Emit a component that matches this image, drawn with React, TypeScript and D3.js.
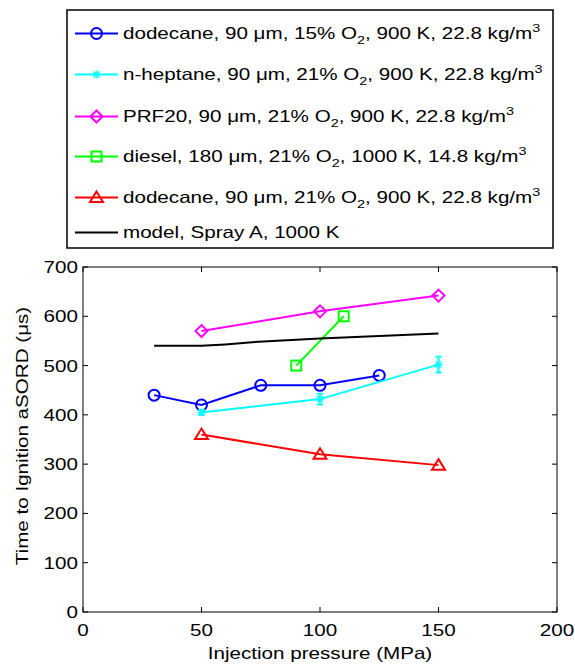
import React from "react";
import * as d3 from "d3";

// Ignition delay vs injection pressure, several fuels and conditions
const dodecane15X = [30, 50, 75, 100, 125];
const dodecane15Y = [440, 420, 460, 460, 480];

const heptaneX = [50, 100, 150];
const heptaneY = [405, 432, 502];
const heptaneErr = [5, 11, 16];

const prf20X = [50, 100, 150];
const prf20Y = [570, 610, 642];

const dieselX = [90, 110];
const dieselY = [500, 600];

const dodecane21X = [50, 100, 150];
const dodecane21Y = [360, 320, 298];

const modelX = [30, 50, 60, 70, 80, 100, 150];
const modelY = [540, 540, 543, 547, 550, 555, 565];

const xTicks = [0, 50, 100, 150, 200];
const yTicks = [0, 100, 200, 300, 400, 500, 600, 700];

const FONT = "'Liberation Sans', Arial, Helvetica, sans-serif";
const FS = 16.5;
const SX = 1.25; // wide glyphs

type Marker = "circle" | "plus" | "diamond" | "square" | "triangle" | "none";

function MarkerShape({ kind, x, y, color }: { kind: Marker; x: number; y: number; color: string }) {
  const sw = 2;
  if (kind === "circle") return <circle cx={x} cy={y} r={5.5} fill="none" stroke={color} strokeWidth={sw} />;
  if (kind === "diamond")
    return (
      <path
        d={`M${x},${y - 6}L${x + 6},${y}L${x},${y + 6}L${x - 6},${y}Z`}
        fill="none"
        stroke={color}
        strokeWidth={sw}
      />
    );
  if (kind === "square") return <rect x={x - 5} y={y - 5} width={10} height={10} fill="none" stroke={color} strokeWidth={sw} />;
  if (kind === "triangle")
    return (
      <path d={`M${x},${y - 6}L${x + 6.5},${y + 4.5}L${x - 6.5},${y + 4.5}Z`} fill="none" stroke={color} strokeWidth={sw} />
    );
  if (kind === "plus")
    return (
      <g stroke={color} strokeWidth={1.5}>
        <line x1={x - 4} x2={x + 4} y1={y} y2={y} />
        <line x1={x} x2={x} y1={y - 4} y2={y + 4} />
        <line x1={x - 3} x2={x + 3} y1={y - 3} y2={y + 3} />
        <line x1={x - 3} x2={x + 3} y1={y + 3} y2={y - 3} />
      </g>
    );
  return null;
}

// Text with horizontally widened glyphs
function WText({
  x,
  y,
  anchor = "start",
  rotate = 0,
  children,
}: {
  x: number;
  y: number;
  anchor?: "start" | "middle" | "end";
  rotate?: number;
  children: React.ReactNode;
}) {
  return (
    <g transform={`translate(${x},${y}) rotate(${rotate}) scale(${SX},1)`}>
      <text x={0} y={0} textAnchor={anchor} fontSize={FS}>
        {children}
      </text>
    </g>
  );
}

function LegendLabel({ pre, mid }: { pre: string; mid: string }) {
  return (
    <>
      <tspan>{pre}</tspan>
      <tspan fontSize={11.5} dy={5}>
        2
      </tspan>
      <tspan dy={-5}>{mid}</tspan>
      <tspan fontSize={11.5} dy={-7}>
        3
      </tspan>
    </>
  );
}

interface Series {
  xs: number[];
  ys: number[];
  color: string;
  marker: Marker;
  label: React.ReactNode;
  err?: number[];
}

const series: Series[] = [
  {
    xs: dodecane15X,
    ys: dodecane15Y,
    color: "#0000ff",
    marker: "circle",
    label: <LegendLabel pre="dodecane, 90 μm, 15% O" mid=", 900 K, 22.8 kg/m" />,
  },
  {
    xs: heptaneX,
    ys: heptaneY,
    err: heptaneErr,
    color: "#00ffff",
    marker: "plus",
    label: <LegendLabel pre="n-heptane, 90 μm, 21% O" mid=", 900 K, 22.8 kg/m" />,
  },
  {
    xs: prf20X,
    ys: prf20Y,
    color: "#ff00ff",
    marker: "diamond",
    label: <LegendLabel pre="PRF20, 90 μm, 21% O" mid=", 900 K, 22.8 kg/m" />,
  },
  {
    xs: dieselX,
    ys: dieselY,
    color: "#00ff00",
    marker: "square",
    label: <LegendLabel pre="diesel, 180 μm, 21% O" mid=", 1000 K, 14.8 kg/m" />,
  },
  {
    xs: dodecane21X,
    ys: dodecane21Y,
    color: "#ff0000",
    marker: "triangle",
    label: <LegendLabel pre="dodecane, 90 μm, 21% O" mid=", 900 K, 22.8 kg/m" />,
  },
  {
    xs: modelX,
    ys: modelY,
    color: "#000000",
    marker: "none",
    label: "model, Spray A, 1000 K",
  },
];

export default function App() {
  const W = 575;
  const H = 666;
  const plot = { left: 83, right: 557, top: 267, bottom: 612 };
  const x = d3.scaleLinear().domain([0, 200]).range([plot.left, plot.right]);
  const y = d3.scaleLinear().domain([0, 700]).range([plot.bottom, plot.top]);
  const line = d3
    .line<[number, number]>()
    .x((d) => x(d[0]))
    .y((d) => y(d[1]));

  const legendBaselines = [39, 80, 122, 162, 203, 238];
  const tickLen = 5;

  return (
    <svg
      width={W}
      height={H}
      style={{ position: "absolute", left: 0, top: 0, background: "#fff" }}
      fontFamily={FONT}
    >
      <rect x={0} y={0} width={W} height={H} fill="#fff" />
      {/* Axes box */}
      <rect
        x={plot.left}
        y={plot.top}
        width={plot.right - plot.left}
        height={plot.bottom - plot.top}
        fill="none"
        stroke="#000"
        strokeWidth={1}
      />
      {xTicks.map((t) => (
        <g key={"xt" + t}>
          <line x1={x(t)} x2={x(t)} y1={plot.bottom} y2={plot.bottom - tickLen} stroke="#000" />
          <line x1={x(t)} x2={x(t)} y1={plot.top} y2={plot.top + tickLen} stroke="#000" />
          <WText x={x(t)} y={636} anchor="middle">
            {t}
          </WText>
        </g>
      ))}
      {yTicks.map((t) => (
        <g key={"yt" + t}>
          <line x1={plot.left} x2={plot.left + tickLen} y1={y(t)} y2={y(t)} stroke="#000" />
          <line x1={plot.right} x2={plot.right - tickLen} y1={y(t)} y2={y(t)} stroke="#000" />
          <WText x={plot.left - 5} y={y(t) + 6} anchor="end">
            {t}
          </WText>
        </g>
      ))}
      <WText x={(plot.left + plot.right) / 2} y={659} anchor="middle">
        Injection pressure (MPa)
      </WText>
      <WText x={28} y={436} anchor="middle" rotate={-90}>
        Time to Ignition aSORD (μs)
      </WText>

      {/* Series */}
      {series.map((s, i) => {
        const pts = s.xs.map((v, j) => [v, s.ys[j]] as [number, number]);
        return (
          <g key={"s" + i}>
            <path d={line(pts) ?? ""} fill="none" stroke={s.color} strokeWidth={2} />
            {s.err &&
              pts.map((p, j) => (
                <g key={"e" + j} stroke={s.color} strokeWidth={2}>
                  <line x1={x(p[0])} x2={x(p[0])} y1={y(p[1] - s.err![j])} y2={y(p[1] + s.err![j])} />
                  <line x1={x(p[0]) - 3} x2={x(p[0]) + 3} y1={y(p[1] - s.err![j])} y2={y(p[1] - s.err![j])} />
                  <line x1={x(p[0]) - 3} x2={x(p[0]) + 3} y1={y(p[1] + s.err![j])} y2={y(p[1] + s.err![j])} />
                </g>
              ))}
            {pts.map((p, j) => (
              <MarkerShape key={"m" + j} kind={s.marker} x={x(p[0])} y={y(p[1])} color={s.color} />
            ))}
          </g>
        );
      })}

      {/* Legend */}
      <rect x={67} y={10} width={486} height={238} fill="#fff" stroke="#000" strokeWidth={1.5} />
      {series.map((s, i) => {
        const base = legendBaselines[i];
        const ly = base - 5.5;
        return (
          <g key={"l" + i}>
            <line x1={75} x2={118} y1={ly} y2={ly} stroke={s.color} strokeWidth={2} />
            <MarkerShape kind={s.marker} x={96.5} y={ly} color={s.color} />
            <WText x={123} y={base}>
              {s.label}
            </WText>
          </g>
        );
      })}
    </svg>
  );
}
